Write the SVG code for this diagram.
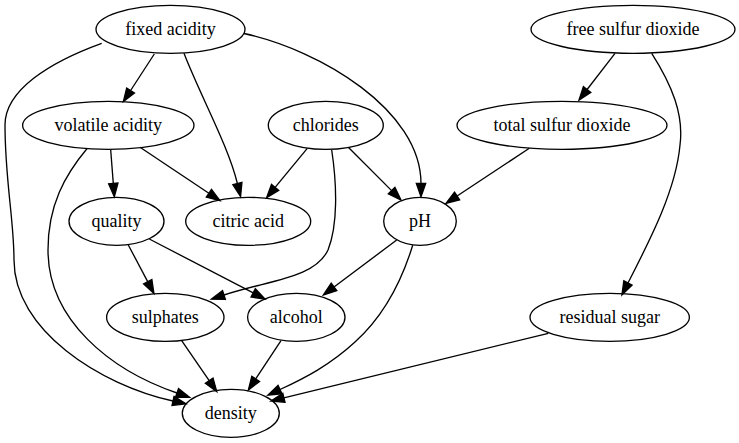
<svg xmlns="http://www.w3.org/2000/svg" width="739" height="443" viewBox="0 0 739 443">
<style>
.node ellipse{fill:none;stroke:#000;stroke-width:1.33}
.node text{font-family:'Liberation Serif','Times New Roman',serif;font-size:18px;text-anchor:middle;fill:#000}
.edges path{fill:none;stroke:#000;stroke-width:1.33;marker-end:url(#arr)}
</style>
<defs>
<marker id="arr" markerUnits="userSpaceOnUse" markerWidth="15" markerHeight="11" refX="0" refY="5.5" orient="auto" overflow="visible">
<path d="M0,0.83 L13.33,5.5 L0,10.17 z" fill="#000" stroke="#000" stroke-width="1.33"/>
</marker>
</defs>
<rect width="739" height="443" fill="#fff"/>
<g class="edges" id="edges">
<path d="M154.3,54 L130.6,90.5"/>
<path d="M184,53.3 C200,95 228,145 237.4,183.5"/>
<path d="M244,33.5 C320,50 421,110 421,183.5"/>
<path d="M101.7,43.3 C50,62 5,90 5,125 C5,180 14,220 14,260 C14,330 100,385 173,401"/>
<path d="M615,53.3 L587.1,89.5"/>
<path d="M651.7,53.3 C672,85 684,115 680,145 C676,190 650,240 628,283"/>
<path d="M110.7,150 L113.3,183.4"/>
<path d="M140,147.3 L208.9,193.3"/>
<path d="M87.3,148.3 C65,175 48,205 48,250 C48,320 110,370 177,393"/>
<path d="M307.3,148.3 L275.1,187.4"/>
<path d="M348.3,147.3 L391.6,190.6"/>
<path d="M331.7,150 C337,185 338,225 328,250 C315,278 270,280 224,295"/>
<path d="M529.3,148.3 L457.1,196"/>
<path d="M128.3,245 L147.7,281.6"/>
<path d="M149.3,239 L253.2,292.9"/>
<path d="M396.7,240 L334,287"/>
<path d="M412.7,245.3 C402,280 385,315 355,342 C330,365 305,378 280,389.5"/>
<path d="M181.7,340.7 L209.2,380.7"/>
<path d="M281,340.7 L255.7,378.9"/>
<path d="M548.3,333.3 L283.9,397.8"/>
</g>
<g class="node" id="fixed_acidity"><ellipse cx="170.5" cy="29.3" rx="74.5" ry="24"/><text x="170.5" y="35">fixed acidity</text></g>
<g class="node" id="free_sulfur_dioxide"><ellipse cx="633" cy="29.3" rx="102" ry="24"/><text x="633" y="35">free sulfur dioxide</text></g>
<g class="node" id="volatile_acidity"><ellipse cx="108.3" cy="125.3" rx="85.7" ry="24"/><text x="108.3" y="131">volatile acidity</text></g>
<g class="node" id="chlorides"><ellipse cx="325.8" cy="125.3" rx="57.5" ry="24"/><text x="325.8" y="131">chlorides</text></g>
<g class="node" id="total_sulfur_dioxide"><ellipse cx="562" cy="125.3" rx="105" ry="24"/><text x="562" y="131">total sulfur dioxide</text></g>
<g class="node" id="quality"><ellipse cx="116.5" cy="221.3" rx="47.5" ry="24"/><text x="116.5" y="227">quality</text></g>
<g class="node" id="citric_acid"><ellipse cx="248.2" cy="221.3" rx="62.5" ry="24"/><text x="248.2" y="227">citric acid</text></g>
<g class="node" id="pH"><ellipse cx="420" cy="221.3" rx="36.3" ry="24"/><text x="420" y="227">pH</text></g>
<g class="node" id="sulphates"><ellipse cx="165.3" cy="317.3" rx="58.7" ry="24"/><text x="165.3" y="323">sulphates</text></g>
<g class="node" id="alcohol"><ellipse cx="296.3" cy="317.3" rx="48.7" ry="24"/><text x="296.3" y="323">alcohol</text></g>
<g class="node" id="residual_sugar"><ellipse cx="609.7" cy="317.3" rx="79.7" ry="24"/><text x="609.7" y="323">residual sugar</text></g>
<g class="node" id="density"><ellipse cx="230.8" cy="413.3" rx="48.5" ry="24"/><text x="230.8" y="419">density</text></g>
</svg>
